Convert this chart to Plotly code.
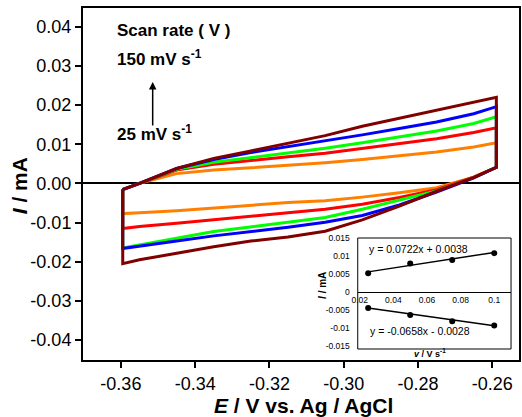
import plotly.graph_objects as go

# ---------------- data ----------------
E_anodic = [-0.3595, -0.355, -0.345, -0.335, -0.325, -0.315, -0.305, -0.295, -0.285, -0.275, -0.265, -0.2589]
E_cathodic = [-0.2589, -0.265, -0.275, -0.285, -0.295, -0.305, -0.315, -0.325, -0.335, -0.345, -0.355, -0.3595]

scan_names = ["25 mV/s", "50 mV/s", "75 mV/s", "100 mV/s", "150 mV/s"]
scan_colors = ["#FF8000", "#FF0000", "#00FF00", "#0000FF", "#800000"]

I_up_25 = [-0.0015, 0.0000, 0.0025, 0.0034, 0.0040, 0.0046, 0.0053, 0.0061, 0.0070, 0.0080, 0.0093, 0.0104]
I_up_50 = [-0.0016, 0.0000, 0.0034, 0.0049, 0.0059, 0.0068, 0.0077, 0.0089, 0.0101, 0.0114, 0.0130, 0.0142]
I_up_75 = [-0.0016, 0.0000, 0.0036, 0.0054, 0.0066, 0.0078, 0.0090, 0.0104, 0.0119, 0.0134, 0.0153, 0.0170]
I_up_100 = [-0.0016, 0.0000, 0.0038, 0.0061, 0.0079, 0.0094, 0.0108, 0.0124, 0.0140, 0.0157, 0.0178, 0.0196]
I_up_150 = [-0.0015, 0.0000, 0.0038, 0.0064, 0.0083, 0.0102, 0.0122, 0.0146, 0.0166, 0.0186, 0.0206, 0.0220]

I_down_25 = [0.0041, 0.0016, -0.0011, -0.0024, -0.0035, -0.0044, -0.0049, -0.0056, -0.0063, -0.0070, -0.0075, -0.0077]
I_down_50 = [0.0041, 0.0016, -0.0016, -0.0036, -0.0053, -0.0066, -0.0075, -0.0084, -0.0094, -0.0102, -0.0110, -0.0115]
I_down_75 = [0.0041, 0.0015, -0.0019, -0.0043, -0.0066, -0.0087, -0.0099, -0.0110, -0.0123, -0.0140, -0.0158, -0.0165]
I_down_100 = [0.0041, 0.0014, -0.0022, -0.0055, -0.0082, -0.0099, -0.0112, -0.0123, -0.0134, -0.0147, -0.0160, -0.0166]
I_down_150 = [0.0041, 0.0015, -0.0020, -0.0058, -0.0093, -0.0122, -0.0137, -0.0147, -0.0162, -0.0178, -0.0195, -0.0205]

I_up = [I_up_25, I_up_50, I_up_75, I_up_100, I_up_150]
I_down = [I_down_25, I_down_50, I_down_75, I_down_100, I_down_150]

x_tickvals = [-0.36, -0.34, -0.32, -0.30, -0.28, -0.26]
x_ticktext = ["-0.36", "-0.34", "-0.32", "-0.30", "-0.28", "-0.26"]
y_tickvals = [0.04, 0.03, 0.02, 0.01, 0.0, -0.01, -0.02, -0.03, -0.04]
y_ticktext = ["0.04", "0.03", "0.02", "0.01", "0.00", "-0.01", "-0.02", "-0.03", "-0.04"]

# inset data
v_rate = [0.025, 0.05, 0.075, 0.1]
I_pa = [0.0052, 0.0079, 0.0089, 0.0108]
I_pc = [-0.0044, -0.0064, -0.0081, -0.0093]
fit_x = [0.025, 0.1]
fit_pa = [0.0056, 0.0110]
fit_pc = [-0.00445, -0.00938]
ix_tickvals = [0.02, 0.04, 0.06, 0.08, 0.1]
ix_ticktext = ["0.02", "0.04", "0.06", "0.08", "0.1"]
iy_tickvals = [0.015, 0.01, 0.005, 0.0, -0.005, -0.01, -0.015]
iy_ticktext = ["0.015", "0.01", "0.005", "0", "-0.005", "-0.01", "-0.015"]

# ---------------- layout geometry ----------------
W, H = 522, 417
L, R, T, B = 83, 521, 8, 360
FONT = "Liberation Sans, Arial, sans-serif"


def px(xp):
    return (xp - L) / (R - L)


def py(yp):
    return (B - yp) / (B - T)


fig = go.Figure()

for name, col, up, down in zip(scan_names, scan_colors, I_up, I_down):
    xs = E_anodic + E_cathodic + [E_anodic[0]]
    ys = up + down + [up[0]]
    fig.add_trace(go.Scatter(x=xs, y=ys, mode="lines", name=name,
                             line=dict(color=col, width=3), showlegend=False,
                             xaxis="x", yaxis="y"))

# inset traces
for pts, fit in [(I_pa, fit_pa), (I_pc, fit_pc)]:
    fig.add_trace(go.Scatter(x=fit_x, y=fit, mode="lines", line=dict(color="black", width=1.5),
                             showlegend=False, xaxis="x2", yaxis="y2"))
    fig.add_trace(go.Scatter(x=v_rate, y=pts, mode="markers",
                             marker=dict(color="black", size=6), showlegend=False,
                             xaxis="x2", yaxis="y2"))

ix_range = [0.0188, 0.110]
iy_range = [-0.0158, 0.015]
ydom2 = [py(349), py(238)]
xdom2 = [px(359), px(513)]
zero_pos = ydom2[0] + (0 - iy_range[0]) / (iy_range[1] - iy_range[0]) * (ydom2[1] - ydom2[0])

fig.update_layout(
    width=W, height=H,
    margin=dict(l=L, r=W - R, t=T, b=H - B),
    paper_bgcolor="white", plot_bgcolor="white",
    font=dict(family=FONT, color="black"),
    xaxis=dict(range=[-0.3702, -0.2528], tickvals=x_tickvals, ticktext=x_ticktext,
               showgrid=False, zeroline=False, showline=True, linewidth=2, linecolor="black",
               mirror=True, ticks="outside", ticklen=6, tickwidth=2, tickcolor="black",
               tickfont=dict(size=18, family=FONT)),
    yaxis=dict(range=[-0.0451, 0.0448], tickvals=y_tickvals, ticktext=y_ticktext,
               showgrid=False, zeroline=True, zerolinecolor="black", zerolinewidth=1.5,
               showline=True, linewidth=2, linecolor="black",
               mirror=True, ticks="outside", ticklen=6, tickwidth=2, tickcolor="black",
               tickfont=dict(size=18, family=FONT)),
    xaxis2=dict(domain=xdom2, range=ix_range, anchor="free", position=zero_pos,
                tickvals=ix_tickvals, ticktext=ix_ticktext, showgrid=False, zeroline=False,
                showline=True, linewidth=1, linecolor="black", ticks="",
                tickfont=dict(size=8.5, family=FONT)),
    yaxis2=dict(domain=ydom2, range=iy_range, anchor="x2",
                tickvals=iy_tickvals, ticktext=iy_ticktext, showgrid=False, zeroline=False,
                showline=False, ticks="", ticklabelstandoff=7,
                tickfont=dict(size=8.5, family=FONT)),
)

# inset frame
fig.add_shape(type="rect", xref="x2 domain", yref="y2 domain", x0=0, x1=1, y0=0, y1=1,
              line=dict(color="black", width=1), fillcolor="rgba(0,0,0,0)", layer="above")

ann = []
ann.append(dict(text="<b>Scan rate ( V )</b>", x=px(115), y=py(31), xanchor="left", yanchor="middle",
                font=dict(size=17)))
ann.append(dict(text="<b>150 mV s<sup>-1</sup></b>", x=px(115), y=py(58), xanchor="left", yanchor="middle",
                font=dict(size=17)))
ann.append(dict(text="<b>25 mV s<sup>-1</sup></b>", x=px(115), y=py(133), xanchor="left", yanchor="middle",
                font=dict(size=17)))
ann.append(dict(text="", x=px(153), y=py(82), ax=0, ay=45, showarrow=True, arrowhead=2,
                arrowsize=1, arrowwidth=1.5, arrowcolor="black"))
ann.append(dict(text="<b><i>E</i> / V vs. Ag / AgCl</b>", x=px(305), y=py(405), xanchor="center",
                yanchor="middle", font=dict(size=21)))
ann.append(dict(text="<b><i>I</i> / mA</b>", x=px(20), y=py(186), xanchor="center", yanchor="middle",
                textangle=-90, font=dict(size=21)))
ann.append(dict(text="y = 0.0722x + 0.0038", x=px(368), y=py(249), xanchor="left", yanchor="middle",
                font=dict(size=10.5)))
ann.append(dict(text="y = -0.0658x - 0.0028", x=px(369), y=py(331), xanchor="left", yanchor="middle",
                font=dict(size=10.5)))
ann.append(dict(text="<b><i>I</i> / mA</b>", x=px(323), y=py(285), xanchor="center", yanchor="middle",
                textangle=-90, font=dict(size=10)))
ann.append(dict(text="<b><i>v</i> / V s<sup>-1</sup></b>", x=px(432), y=py(353), xanchor="center",
                yanchor="middle", font=dict(size=9)))
for a in ann:
    a.setdefault("showarrow", False)
    a["xref"] = "paper"
    a["yref"] = "paper"
fig.update_layout(annotations=ann)

fig.write_html("out.html")
